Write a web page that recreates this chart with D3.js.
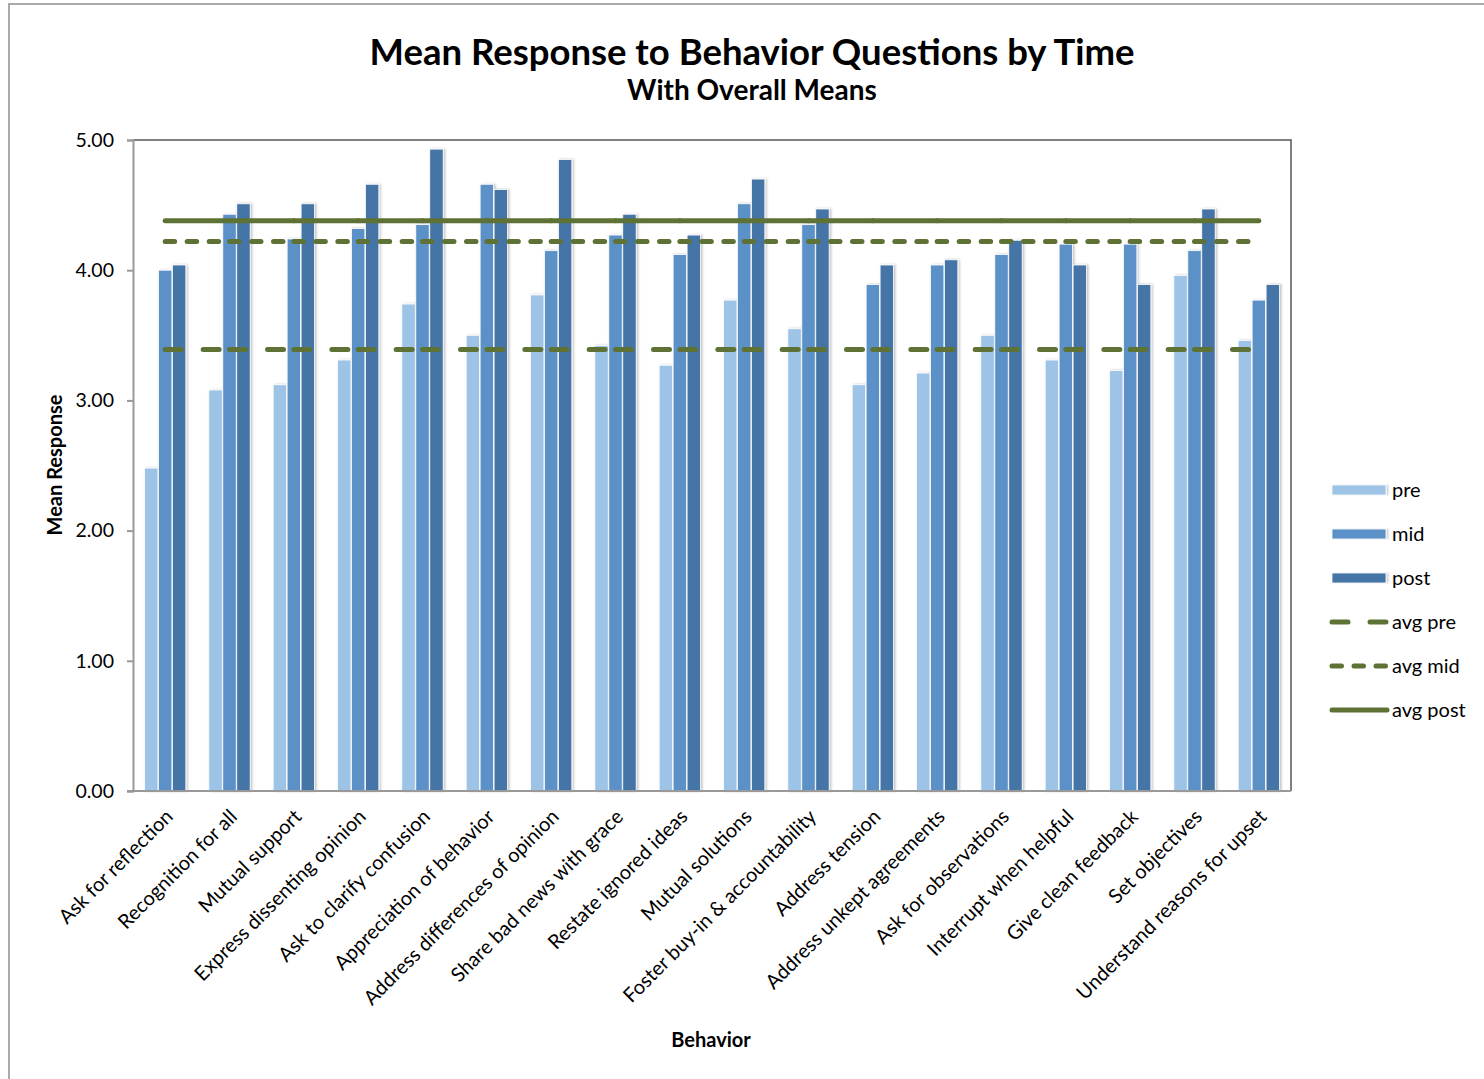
<!DOCTYPE html>
<html>
<head>
<meta charset="utf-8">
<script src="https://cdn.jsdelivr.net/npm/d3@7"></script>
<style>
  body { margin: 0; background: #fff; }
  text { font-family: Lato, "Open Sans", sans-serif; fill: #000; }
</style>
</head>
<body>
<div id="chart"></div>
<script>
const width = 1484
const height = 1079

const categories = ["Ask for reflection", "Recognition for all", "Mutual support", "Express dissenting opinion",
  "Ask to clarify confusion", "Appreciation of behavior", "Address differences of opinion", "Share bad news with grace",
  "Restate ignored ideas", "Mutual solutions", "Foster buy-in & accountability", "Address tension",
  "Address unkept agreements", "Ask for observations", "Interrupt when helpful", "Give clean feedback",
  "Set objectives", "Understand reasons for upset"]
const preVals  = [2.48, 3.08, 3.12, 3.31, 3.74, 3.50, 3.81, 3.42, 3.27, 3.77, 3.55, 3.12, 3.21, 3.50, 3.31, 3.23, 3.96, 3.46]
const midVals  = [4.00, 4.43, 4.24, 4.32, 4.35, 4.66, 4.15, 4.27, 4.12, 4.51, 4.35, 3.89, 4.04, 4.12, 4.20, 4.20, 4.15, 3.77]
const postVals = [4.04, 4.51, 4.51, 4.66, 4.93, 4.62, 4.85, 4.43, 4.27, 4.70, 4.47, 4.04, 4.08, 4.23, 4.04, 3.89, 4.47, 3.89]
const seriesNames = ["pre", "mid", "post"]
const avgNames = ["avg pre", "avg mid", "avg post"]
const avgVals = [3.39, 4.22, 4.38]
const yTicks = [0, 1, 2, 3, 4, 5]

const barColors = {pre: "#9dc3e6", mid: "#5b91c7", post: "#4574a6"}
const lineColor = "#5f7235"
const dashes = {"avg pre": "16,22,16", "avg mid": "9.5,12.5", "avg post": null}

const plot = {left: 133, right: 1291, top: 140, bottom: 791}

const svg = d3.select("#chart").append("svg").attr("width", width).attr("height", height)

const defs = svg.append("defs")
defs.append("filter").attr("id", "shadow").attr("x", "-30%").attr("width", "160%")
  .append("feDropShadow").attr("dx", 1.5).attr("dy", 0).attr("stdDeviation", 1.2)
  .attr("flood-color", "#000").attr("flood-opacity", 0.25)

// outer frame
svg.append("path").attr("d", `M9,${height + 5} V4 H${width + 5}`)
  .attr("fill", "none").attr("stroke", "#aaa").attr("stroke-width", 2)

const x0 = d3.scaleBand().domain(categories).range([plot.left, plot.right])
  .paddingInner(0.34).paddingOuter(0.17)
const x1 = d3.scaleBand().domain(seriesNames).range([0, x0.bandwidth()]).padding(0.04)
const y = d3.scaleLinear().domain([0, 5]).range([plot.bottom, plot.top])

const data = categories.map((c, i) => ({cat: c, pre: preVals[i], mid: midVals[i], post: postVals[i]}))

// plot border (top/right darker)
svg.append("path").attr("d", `M${plot.left},${plot.top} H${plot.right} V${plot.bottom}`)
  .attr("fill", "none").attr("stroke", "#555").attr("stroke-width", 1.5)

// bars
const groups = svg.append("g").selectAll("g").data(data).join("g")
  .attr("transform", d => `translate(${x0(d.cat)},0)`)
groups.selectAll("rect").data(d => seriesNames.map(s => ({s, v: d[s]}))).join("rect")
  .attr("x", d => x1(d.s))
  .attr("width", x1.bandwidth())
  .attr("y", d => y(d.v))
  .attr("height", d => y(0) - y(d.v))
  .attr("fill", d => barColors[d.s])
  .attr("stroke", "#fff").attr("stroke-width", 0.8)
  .attr("filter", "url(#shadow)")

// axes
const yAxis = d3.axisLeft(y).tickValues(yTicks).tickFormat(d3.format(".2f")).tickSize(6).tickPadding(13)
const yg = svg.append("g").attr("transform", `translate(${plot.left},0)`).call(yAxis)
yg.select(".domain").attr("stroke", "#999").attr("stroke-width", 2)
yg.selectAll(".tick line").attr("stroke", "#999").attr("stroke-width", 2)
yg.selectAll(".tick text").attr("font-size", 19.5).attr("font-family", "Lato")

svg.append("line").attr("x1", plot.left - 6).attr("x2", plot.right)
  .attr("y1", plot.bottom).attr("y2", plot.bottom)
  .attr("stroke", "#999").attr("stroke-width", 2)

// category labels
svg.append("g").selectAll("text").data(categories).join("text")
  .attr("transform", d => `translate(${x0(d) + x0.bandwidth() / 2 + 4},${plot.bottom + 22}) rotate(-45)`)
  .attr("text-anchor", "end")
  .attr("dy", "0.35em")
  .attr("font-size", 20)
  .text(d => d)

// average lines, drawn segment by segment between category centres
const centres = categories.map(c => x0(c) + x0.bandwidth() / 2)
avgNames.forEach((name, k) => {
  const segs = d3.pairs(centres)
  svg.append("g").selectAll("line").data(segs).join("line")
    .attr("x1", d => d[0]).attr("x2", d => d[1])
    .attr("y1", y(avgVals[k])).attr("y2", y(avgVals[k]))
    .attr("stroke", lineColor).attr("stroke-width", 5)
    .attr("stroke-linecap", "round")
    .attr("stroke-dasharray", dashes[name])
})

// titles
svg.append("text").attr("x", 752).attr("y", 65).attr("text-anchor", "middle")
  .attr("font-size", 36.5).attr("font-weight", "bold").text("Mean Response to Behavior Questions by Time")
svg.append("text").attr("x", 752).attr("y", 100).attr("text-anchor", "middle")
  .attr("font-size", 28).attr("font-weight", "bold").text("With Overall Means")
svg.append("text").attr("transform", `translate(62,465) rotate(-90)`).attr("text-anchor", "middle")
  .attr("font-size", 20).attr("font-weight", "bold").text("Mean Response")
svg.append("text").attr("x", 711).attr("y", 1047).attr("text-anchor", "middle")
  .attr("font-size", 20).attr("font-weight", "bold").text("Behavior")

// legend
const legend = svg.append("g").attr("transform", "translate(1330,490)")
const items = seriesNames.concat(avgNames)
const li = legend.selectAll("g").data(items).join("g")
  .attr("transform", (d, i) => `translate(0,${i * 44})`)
li.filter(d => seriesNames.includes(d)).append("rect")
  .attr("x", 2).attr("y", -5).attr("width", 54).attr("height", 10)
  .attr("fill", d => barColors[d]).attr("stroke", "#fff").attr("stroke-width", 0.8)
  .attr("filter", "url(#shadow)")
li.filter(d => avgNames.includes(d)).append("line")
  .attr("x1", 2).attr("x2", 57).attr("y1", 0).attr("y2", 0)
  .attr("stroke", lineColor).attr("stroke-width", 5).attr("stroke-linecap", "round")
  .attr("stroke-dasharray", d => dashes[d])
li.append("text").attr("x", 62).attr("dy", "0.35em").attr("font-size", 20).text(d => d)
</script>
</body>
</html>
